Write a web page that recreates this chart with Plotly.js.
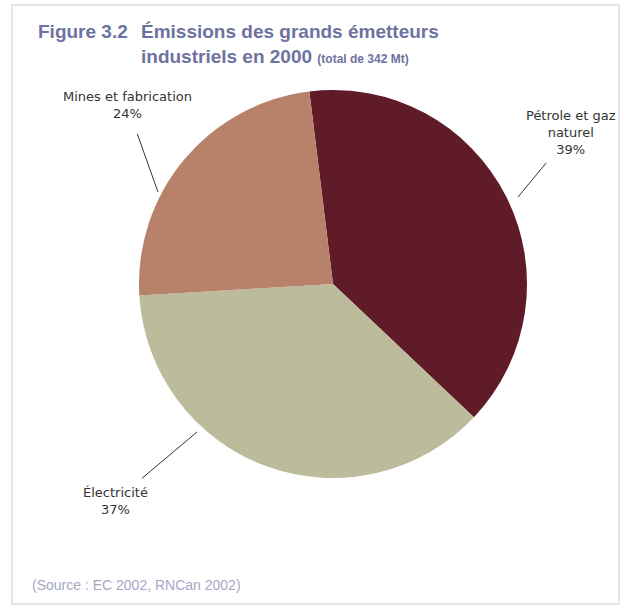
<!DOCTYPE html>
<html>
<head>
<meta charset="utf-8">
<script src="https://cdn.plot.ly/plotly-3.0.1.min.js"></script>
<style>html,body{margin:0;padding:0;background:#fff;}#chart{width:627px;height:613px;}</style>
</head>
<body>
<div id="chart"></div>
<script>
// Data
const categories = ["Pétrole et gaz naturel", "Électricité", "Mines et fabrication"];
const labelText = ["Pétrole et gaz<br>naturel", "Électricité", "Mines et fabrication"];
const shares = [39, 37, 24];
const sliceColors = ["#5f1b27", "#bcbb9c", "#b8826a"];
const titleMain = "Émissions des grands émetteurs<br>industriels en 2000";
const titleSub = "(total de 342 Mt)";
const figLabel = "Figure 3.2";
const sourceText = "(Source : EC 2002, RNCan 2002)";

const W = 627, H = 613;
const px = x => x / W;
const py = y => 1 - y / H;

// label layout (pixel positions: arrow tip, text offset)
const labelPos = [
  {tip: [518, 197], off: [53, -64], stand: 5},
  {tip: [197, 432], off: [-82, 69], stand: 8},
  {tip: [158, 192], off: [-31, -87], stand: 12}
];

const font = "Liberation Sans, Arial, sans-serif";
const labelFont = "DejaVu Sans, Liberation Sans, sans-serif";

const annotations = categories.map((c, i) => ({
  xref: "paper", yref: "paper",
  x: px(labelPos[i].tip[0]), y: py(labelPos[i].tip[1]),
  ax: labelPos[i].off[0], ay: labelPos[i].off[1],
  text: labelText[i] + "<br>" + shares[i] + "%",
  showarrow: true, arrowhead: 0, arrowwidth: 1, arrowcolor: "#333",
  startstandoff: labelPos[i].stand,
  font: {family: labelFont, size: 13, color: "#333"},
  align: "center"
}));

annotations.push({
  xref: "paper", yref: "paper", x: px(36), y: py(19),
  xanchor: "left", yanchor: "top", showarrow: false,
  text: "<b>" + figLabel + "</b>",
  font: {family: font, size: 19, color: "#6e72a0"}
});
annotations.push({
  xref: "paper", yref: "paper", x: px(139), y: py(19),
  xanchor: "left", yanchor: "top", showarrow: false, align: "left",
  text: "<b>" + titleMain + " <span style='font-size:12px'>" + titleSub + "</span></b>",
  font: {family: font, size: 19, color: "#6e72a0"}
});
annotations.push({
  xref: "paper", yref: "paper", x: px(30), y: py(585),
  xanchor: "left", yanchor: "middle", showarrow: false,
  text: sourceText,
  font: {family: font, size: 14, color: "#a4a7c4"}
});

const data = [{
  type: "pie",
  labels: categories,
  values: shares,
  sort: false,
  direction: "clockwise",
  rotation: -7,
  textinfo: "none",
  hoverinfo: "label+percent",
  marker: {colors: sliceColors, line: {width: 0}},
  domain: {x: [px(138), px(528)], y: [py(478), py(90)]},
  showlegend: false
}];

const layout = {
  width: W, height: H,
  margin: {l: 0, r: 0, t: 0, b: 0},
  paper_bgcolor: "#ffffff",
  showlegend: false,
  annotations: annotations,
  shapes: [{
    type: "rect", xref: "paper", yref: "paper",
    x0: px(12), x1: px(619), y0: py(604), y1: py(5),
    line: {color: "#dcdde6", width: 1.5}
  }]
};

Plotly.newPlot("chart", data, layout, {displayModeBar: false, staticPlot: true});
</script>
</body>
</html>
